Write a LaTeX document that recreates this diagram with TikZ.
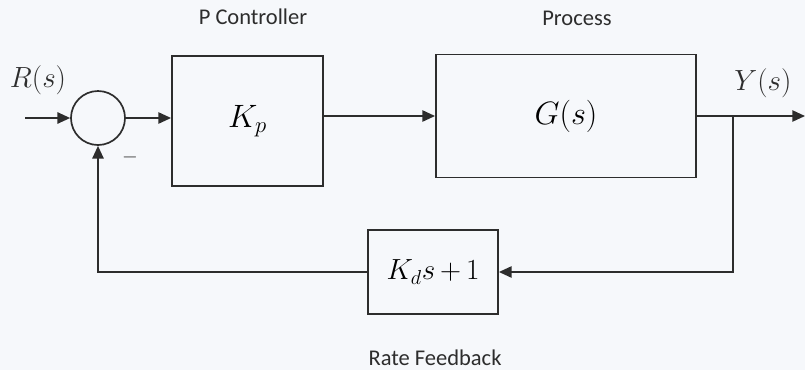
\RequirePackage{fix-cm}
\documentclass[tikz,border=0pt]{standalone}
\usepackage{fontspec}
\setsansfont{Carlito}
\usetikzlibrary{arrows.meta, positioning}
\definecolor{paper}{RGB}{246,248,251}
\definecolor{ink}{RGB}{45,45,45}

\begin{document}
\begin{tikzpicture}[
    x=0.025cm, y=-0.025cm,
    line width=1.2pt, draw=ink,
    block/.style={rectangle, draw=ink, fill=paper, line width=1.3pt,
                  align=center, font=\fontsize{23}{28}\selectfont},
    sumnode/.style={circle, draw=ink, fill=paper, minimum size=1.35cm, inner sep=0pt},
    lbl/.style={font=\sffamily\fontsize{16}{19}\selectfont, text=ink},
    sig/.style={font=\huge, text=ink},
    wire/.style={draw=ink, line width=1.2pt},
    arr/.style={wire, -{Triangle[length=9pt,width=8pt]}}
]
\fill[paper] (0,0) rectangle (805,370);
\useasboundingbox (0,0) rectangle (805,370);

% forward path
\node[sumnode] (sum) at (98,118) {};
\node[block, minimum width=3.775cm, minimum height=3.25cm] (kp) at (247.5,121) {$K_p$};
\node[block, minimum width=6.5cm, minimum height=3.075cm] (gs) at (566,116) {$G(s)$};
\node[block, minimum width=3.25cm, minimum height=2.1cm, font=\huge] (kd) at (433,272) {$K_d s\,{+}\,1$};

\coordinate (in) at (25,118);
\coordinate (out) at (805,116);
\coordinate (branch) at (733,116);

% labels
\node[lbl] (pctrl) at (253,17) {P Controller};
\node[lbl] (proc) at (577,18) {Process};
\node[lbl] (ratefb) at (435,358) {Rate Feedback};
\node[sig] (rlab) at (38,80) {$R(s)$};
\node[sig] (ylab) at (763,83) {$Y(s)$};
\node[text=ink, font=\Large] (minus) at (130,157) {$-$};

\draw[arr] (in) -- (sum.west);
\draw[arr] (sum.east) -- (sum.east -| kp.west);
\draw[arr] (kp.east |- gs.west) -- (gs.west);
\draw[arr] (gs.east) -- (out);
\draw[arr] (branch) |- (kd.east);
\draw[arr] (kd.west) -| (sum.south);
\end{tikzpicture}
\end{document}
